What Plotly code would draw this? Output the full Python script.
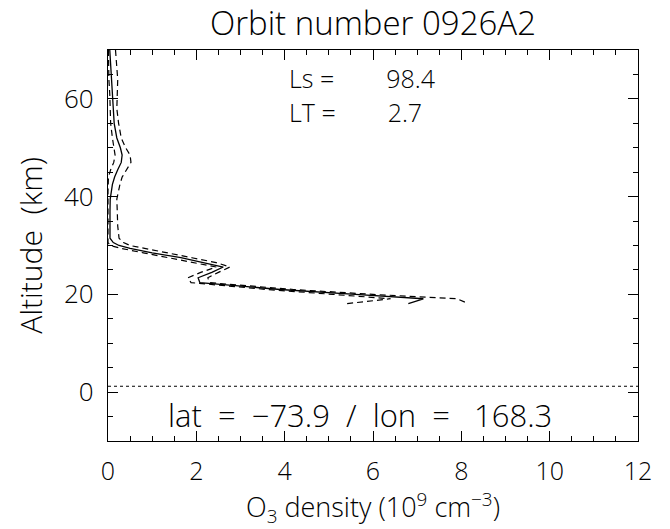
import plotly.graph_objects as go

# Altitude grid (km)
altitude = [70, 67, 64, 61, 58, 55, 52, 50, 48.5, 47, 45.5, 44, 42.5, 41, 39.5,
            37, 34, 31.5, 30.6, 30.0, 29.4, 28.5, 27.5, 26.5, 25.6, 24.5, 23.4,
            22.4, 21.0, 20.0, 19.1, 18.1]

# O3 density (10^9 cm^-3)
o3_density = [0.04, 0.06, 0.09, 0.11, 0.12, 0.14, 0.20, 0.28, 0.32, 0.30, 0.22,
              0.15, 0.10, 0.07, 0.05, 0.045, 0.045, 0.045, 0.12, 0.25, 0.5, 1.0,
              1.65, 2.2, 2.61, 2.35, 2.04, 2.08, 3.9, 5.6, 7.14, 6.8]
o3_upper = [0.17, 0.20, 0.22, 0.21, 0.20, 0.24, 0.30, 0.40, 0.50, 0.52, 0.42,
            0.32, 0.27, 0.23, 0.20, 0.21, 0.22, 0.25, 0.35, 0.5, 0.85, 1.3,
            1.9, 2.45, 2.76, 2.5, 2.26, 2.3, 4.2, 6.0, 7.9, 8.16]
o3_lower = [0.01, 0.01, 0.02, 0.04, 0.05, 0.06, 0.10, 0.14, 0.16, 0.13, 0.06,
            0.01, 0.0, 0.0, 0.0, 0.0, 0.0, 0.0, 0.0, 0.05, 0.3, 0.8,
            1.4, 1.95, 2.45, 2.1, 1.81, 1.88, 3.6, 5.1, 6.4, 5.4]

surface_alt = 1.2
x_range = [0, 12]
y_range = [-10, 70]

NB = "\u00a0"
title_text = "Orbit number 0926A2"
ls_text = "Ls =" + NB * 8 + "98.4"
lt_text = "LT =" + NB * 8 + "2.7"
latlon_text = ("lat" + NB * 2 + "=" + NB * 2 + "\u221273.9" + NB * 2 + "/" + NB * 2 +
               "lon" + NB * 2 + "=" + NB * 3 + "168.3")
x_title = "O<sub>3</sub> density (10<sup>9</sup> cm<sup>\u22123</sup>)"
y_title = "Altitude" + NB * 2 + "(km)"

FONT = "Open Sans"
W = 300


def f(size):
    return dict(family=FONT, size=size, color="black", weight=W)


fig = go.Figure()
fig.add_trace(go.Scatter(x=o3_upper, y=altitude, mode="lines",
                         line=dict(color="black", width=1.2, dash="6px,4px"),
                         showlegend=False))
fig.add_trace(go.Scatter(x=o3_lower, y=altitude, mode="lines",
                         line=dict(color="black", width=1.2, dash="6px,4px"),
                         showlegend=False))
fig.add_trace(go.Scatter(x=o3_density, y=altitude, mode="lines",
                         line=dict(color="black", width=1.3),
                         showlegend=False))
fig.add_trace(go.Scatter(x=x_range, y=[surface_alt, surface_alt], mode="lines",
                         line=dict(color="black", width=1, dash="dot"),
                         showlegend=False))

axis_common = dict(showline=True, linecolor="black", linewidth=1.3, mirror="allticks",
                   ticks="inside", ticklen=10, tickwidth=1, tickcolor="black",
                   showgrid=False, zeroline=False, automargin=False)

fig.update_xaxes(range=x_range, dtick=2, tick0=0,
                 minor=dict(dtick=0.5, ticks="inside", ticklen=5, tickcolor="black", showgrid=False),
                 title=dict(text=x_title, font=f(27), standoff=6),
                 tickfont=f(25), ticklabelstandoff=8,
                 **axis_common)
fig.update_yaxes(range=y_range, dtick=20, tick0=0,
                 minor=dict(dtick=5, ticks="inside", ticklen=5, tickcolor="black", showgrid=False),
                 title=dict(text=y_title, font=f(30), standoff=12),
                 tickfont=f(26), ticklabelstandoff=8,
                 **axis_common)

fig.add_annotation(x=(287 - 108) / 530, y=(441 - 78) / 391, xref="paper", yref="paper",
                   text=ls_text, showarrow=False, xanchor="left", yanchor="middle",
                   font=f(25))
fig.add_annotation(x=(287 - 108) / 530, y=(441 - 112) / 391, xref="paper", yref="paper",
                   text=lt_text, showarrow=False, xanchor="left", yanchor="middle",
                   font=f(25))
fig.add_annotation(x=(360 - 108) / 530, y=(441 - 415) / 391, xref="paper", yref="paper",
                   text=latlon_text, showarrow=False, xanchor="center", yanchor="middle",
                   font=f(31))

fig.update_layout(
    width=670, height=529,
    margin=dict(l=108, r=32, t=50, b=88),
    paper_bgcolor="white", plot_bgcolor="white",
    title=dict(text=title_text, x=0.5, xref="paper", xanchor="center",
               y=1 - 23 / 529, yref="container", yanchor="middle",
               font=f(33)),
)

fig.write_html("out.html", config={"displayModeBar": False},
               post_script="document.body.style.margin='0';")
